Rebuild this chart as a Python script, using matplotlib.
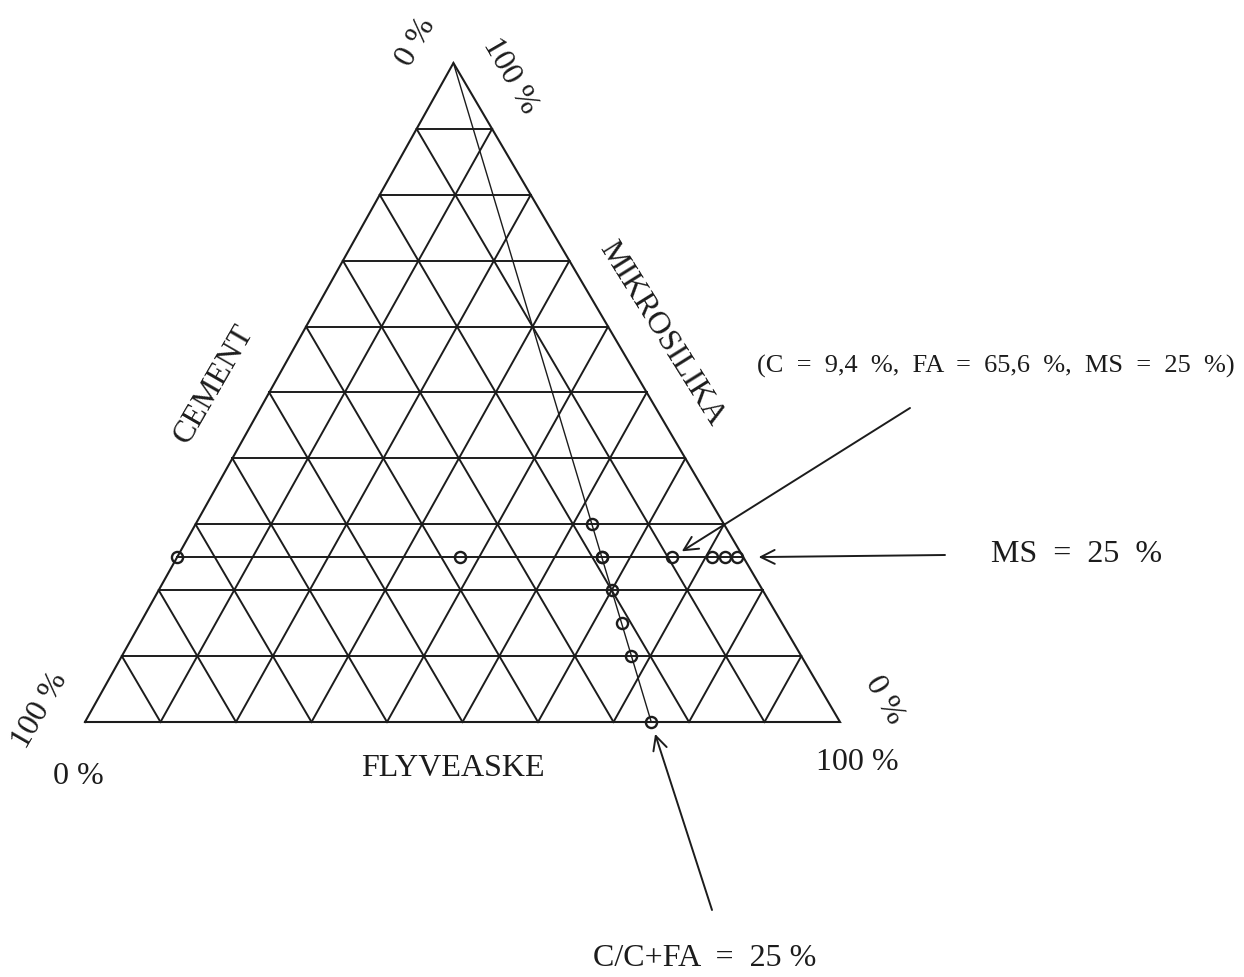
import numpy as np
import matplotlib.pyplot as plt

plt.rcParams['font.family'] = ['Liberation Serif', 'DejaVu Serif']

# mixes on the line MS = 25 % : cement content (%), fly ash is the rest
ms_fixed = 25
cement_on_ms_line = [75, 37.5, 18.75, 9.4, 4.2, 2.4, 0.8]

# mixes on the line C/(C+FA) = 25 % : microsilica content (%)
ratio_fixed = 0.25
ms_on_ratio_line = [30, 25, 20, 15, 10, 0]
ratio_line_ends = [100, 0]

grid_steps = np.arange(10, 100, 10)

INK = '#1c1c1c'
APEX_X = 0.488  # the drawn triangle leans a little to the left


def tern(c, fa, ms):
    # cement at bottom left, fly ash bottom right, microsilica at the top
    c, fa, ms = np.asarray(c, float), np.asarray(fa, float), np.asarray(ms, float)
    tot = c + fa + ms
    return fa / tot + APEX_X * ms / tot, ms / tot


def px(x, y):
    # layout helper: picture pixel position -> axes data position
    return (x - 85) / 755.0, (722 - y) / 659.0


fig = plt.figure(figsize=(12.44, 9.77), dpi=100)
ax = fig.add_axes([0, 0, 1, 1])
ax.set_xlim(-85 / 755.0, (1244 - 85) / 755.0)
ax.set_ylim(-(977 - 722) / 659.0, 722 / 659.0)
ax.axis('off')

# outline
corners = [(100, 0, 0), (0, 100, 0), (0, 0, 100), (100, 0, 0)]
x, y = tern(*zip(*corners))
ax.plot(x, y, color=INK, lw=1.5, solid_joinstyle='miter')

# 10 % grid
for g in grid_steps:
    lines = [((100 - g, 0, g), (0, 100 - g, g)),   # constant MS
             ((100 - g, g, 0), (0, g, 100 - g)),   # constant FA
             ((g, 100 - g, 0), (g, 0, 100 - g))]   # constant C
    for a, b in lines:
        x, y = tern(*zip(a, b))
        ax.plot(x, y, color=INK, lw=1.4)

# line C/(C+FA) = 25 % from the MS corner
ends = [((100 - m) * ratio_fixed, (100 - m) * (1 - ratio_fixed), m) for m in ratio_line_ends]
x, y = tern(*zip(*ends))
ax.plot(x, y, color=INK, lw=1.0)

# line MS = 25 %
x, y = tern([100 - ms_fixed, 0], [0, 100 - ms_fixed], [ms_fixed, ms_fixed])
ax.plot(x, y, color=INK, lw=1.4)

# mixes
c = np.array(cement_on_ms_line)
x, y = tern(c, 100 - ms_fixed - c, np.full(len(c), ms_fixed))
ax.plot(x, y, 'o', ms=8, mfc='none', mec=INK, mew=1.7)

m = np.array(ms_on_ratio_line)
x, y = tern((100 - m) * ratio_fixed, (100 - m) * (1 - ratio_fixed), m)
ax.plot(x, y, 'o', ms=8, mfc='none', mec=INK, mew=1.7)

fs = 23
# axis names
ax.text(*px(453, 768), 'FLYVEASKE', fontsize=fs, ha='center', va='center', color=INK)
ax.text(*px(214, 384), 'CEMENT', fontsize=fs, ha='center', va='center', rotation=60, color=INK)
ax.text(*px(662, 334), 'MIKROSILIKA', fontsize=fs, ha='center', va='center', rotation=-58, color=INK)

# corner percentages
ax.text(*px(78, 777), '0 %', fontsize=fs, ha='center', va='center', color=INK)
ax.text(*px(40, 710), '100 %', fontsize=fs, ha='center', va='center', rotation=60, color=INK)
ax.text(*px(857, 763), '100 %', fontsize=fs, ha='center', va='center', color=INK)
ax.text(*px(884, 700), '0 %', fontsize=fs, ha='center', va='center', rotation=-60, color=INK)
ax.text(*px(416, 42), '0 %', fontsize=fs, ha='center', va='center', rotation=60, color=INK)
ax.text(*px(510, 76), '100 %', fontsize=fs, ha='center', va='center', rotation=-60, color=INK)

# notes with arrows
arrow = dict(arrowstyle='->,head_length=0.5,head_width=0.25', color=INK, lw=1.4,
             shrinkA=0, mutation_scale=20)

pt = tern(cement_on_ms_line[3], 100 - ms_fixed - cement_on_ms_line[3], ms_fixed)
ax.annotate('', xy=pt, xytext=px(910, 408), arrowprops=dict(arrow, shrinkB=8))
ax.text(*px(996, 366), '(C  =  9,4  %,  FA  =  65,6  %,  MS  =  25  %)', fontsize=19,
        ha='center', va='center', color=INK)

edge = tern(0, 100 - ms_fixed, ms_fixed)
ax.annotate('', xy=edge, xytext=px(945, 555), arrowprops=dict(arrow, shrinkB=11))
ax.text(*px(1077, 555), 'MS  =  25  %', fontsize=fs, ha='center', va='center', color=INK)

base = tern(100 * ratio_fixed, 100 * (1 - ratio_fixed), 0)
ax.annotate('', xy=base, xytext=px(712, 910), arrowprops=dict(arrow, shrinkB=9))
ax.text(*px(705, 958), 'C/C+FA  =  25 %', fontsize=fs, ha='center', va='center', color=INK)

fig.savefig('out.png', dpi=100, facecolor='white')
